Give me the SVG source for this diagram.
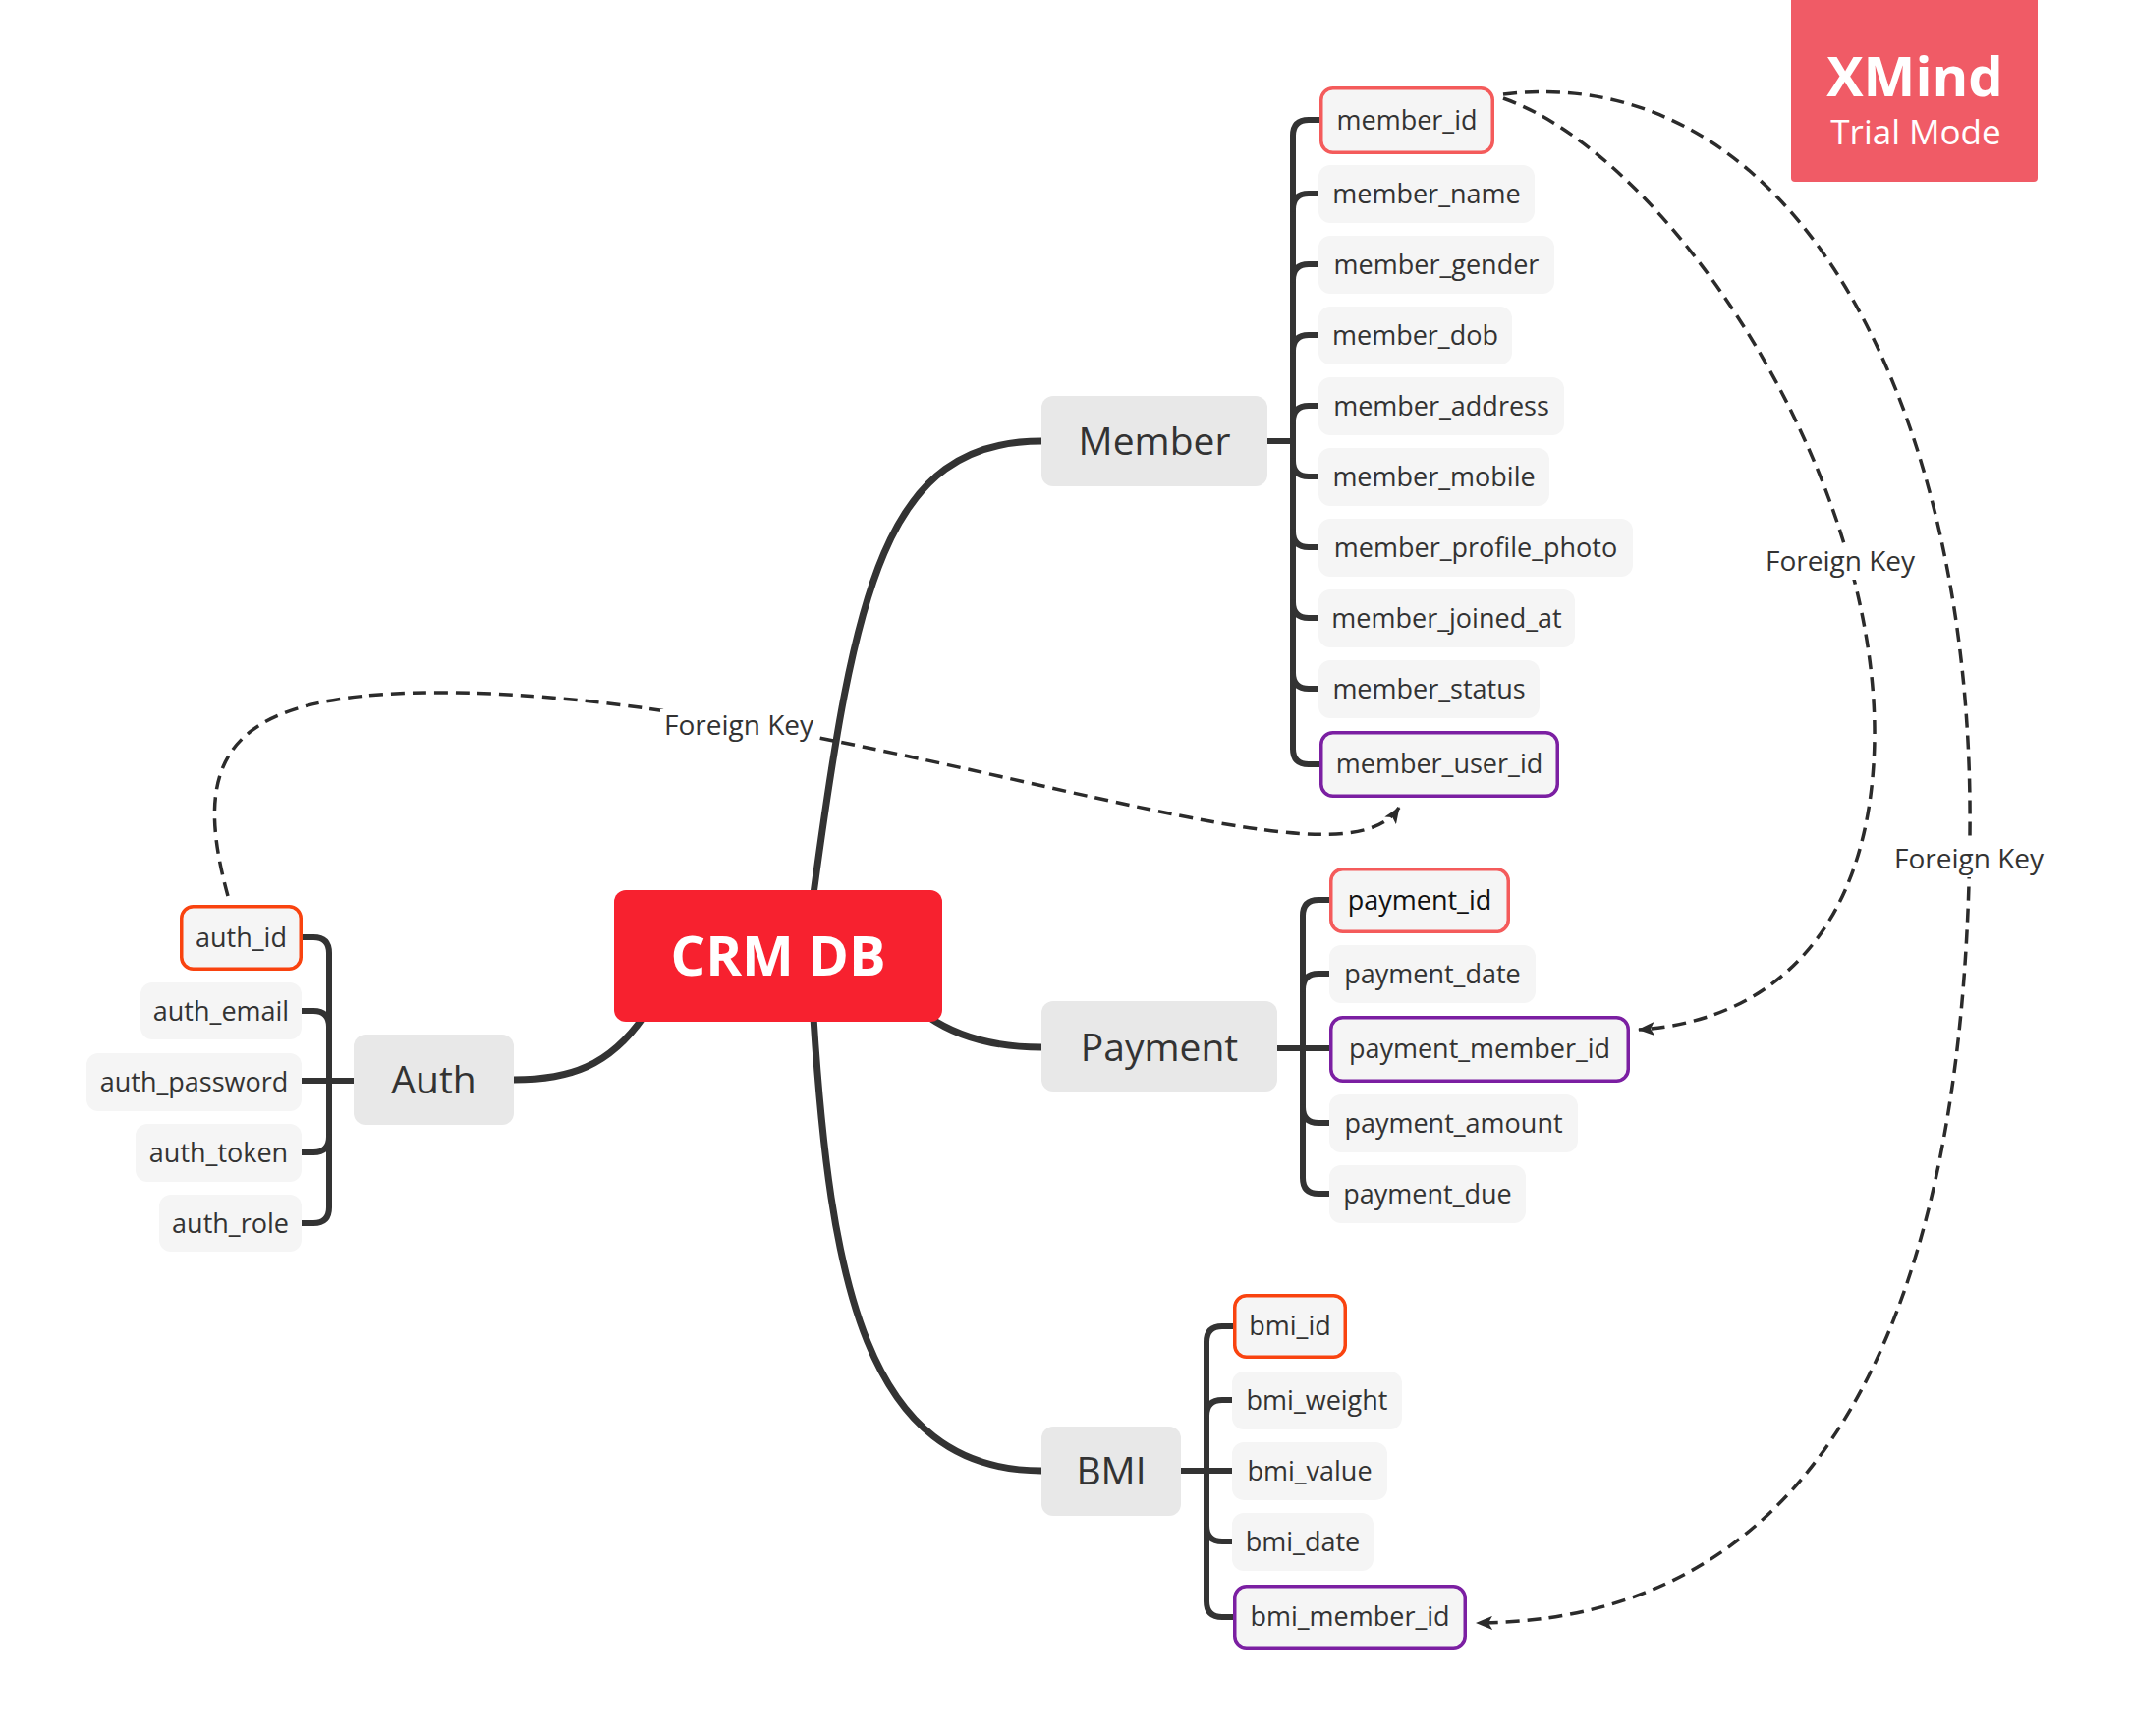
<svg xmlns="http://www.w3.org/2000/svg" width="2169" height="1767" viewBox="0 0 2169 1767">
<style>
text{font-family:"Open Sans","Liberation Sans",sans-serif;fill:#333333}
.sub{font-size:27px;text-anchor:middle}
.main{font-size:39px;text-anchor:middle}
.lbl{font-size:28px;text-anchor:middle;fill:#333}
.sb{fill:#F5F5F5}
.mb{fill:#E8E8E8}
.pk1{fill:#F5F5F5;stroke:#F45B5B;stroke-width:3.5}
.pk2{fill:#F5F5F5;stroke:#F9430F;stroke-width:3.5}
.fk{fill:#F5F5F5;stroke:#7B1FA2;stroke-width:3.5}
.br{fill:none;stroke:#333;stroke-width:6;stroke-linecap:round;stroke-linejoin:round}
.mc{fill:none;stroke:#333;stroke-width:7;stroke-linecap:round}
.rel{fill:none;stroke:#2b2b2b;stroke-width:3.5;stroke-dasharray:14 8}
</style>
<defs>
<marker id="ah" markerWidth="18" markerHeight="14" refX="16" refY="7" orient="auto" markerUnits="userSpaceOnUse">
<path d="M0,0 L17,7 L0,14 L4,7 z" fill="#2b2b2b"/>
</marker>
</defs>
<rect width="2169" height="1767" fill="#ffffff"/>

<g id="connectors">
<path class="mc" d="M 828 910 C 870 600, 900 449, 1060 449"/>
<path class="mc" d="M 945 1035 Q 990 1066 1060 1066"/>
<path class="mc" d="M 828 1036 C 845 1300, 880 1497, 1060 1497"/>
<path class="mc" d="M 655 1035 C 620 1085, 580 1099, 523 1099"/>
<path class="br" d="M 1290 449 H 1316"/>
<path class="br" d="M 1343 122 H 1332 Q 1316 122 1316 138 V 762 Q 1316 778 1332 778 H 1343"/>
<path class="br" d="M 1316 213 Q 1316 197 1332 197 H 1342"/>
<path class="br" d="M 1316 285 Q 1316 269 1332 269 H 1342"/>
<path class="br" d="M 1316 357 Q 1316 341 1332 341 H 1342"/>
<path class="br" d="M 1316 429 Q 1316 413 1332 413 H 1342"/>
<path class="br" d="M 1316 469 Q 1316 485 1332 485 H 1342"/>
<path class="br" d="M 1316 541 Q 1316 557 1332 557 H 1342"/>
<path class="br" d="M 1316 613 Q 1316 629 1332 629 H 1342"/>
<path class="br" d="M 1316 685 Q 1316 701 1332 701 H 1342"/>
<path class="br" d="M 1300 1067 H 1353"/>
<path class="br" d="M 1353 916 H 1342 Q 1326 916 1326 932 V 1199 Q 1326 1215 1342 1215 H 1353"/>
<path class="br" d="M 1326 1007 Q 1326 991 1342 991 H 1353"/>
<path class="br" d="M 1326 1127 Q 1326 1143 1342 1143 H 1353"/>
<path class="br" d="M 1202 1497 H 1254"/>
<path class="br" d="M 1255 1350 H 1244 Q 1228 1350 1228 1366 V 1630 Q 1228 1646 1244 1646 H 1255"/>
<path class="br" d="M 1228 1441 Q 1228 1425 1244 1425 H 1254"/>
<path class="br" d="M 1228 1553 Q 1228 1569 1244 1569 H 1254"/>
<path class="br" d="M 360 1100 H 307"/>
<path class="br" d="M 308 954 H 319 Q 335 954 335 970 V 1229 Q 335 1245 319 1245 H 307"/>
<path class="br" d="M 335 1045 Q 335 1029 319 1029 H 307"/>
<path class="br" d="M 335 1157 Q 335 1173 319 1173 H 307"/>
<path class="rel" marker-end="url(#ah)" d="M 232 912 C 190 760, 240 703, 460 705 C 700 707, 1000 790, 1200 830 C 1330 856, 1400 858, 1424 822"/>
<path class="rel" marker-end="url(#ah)" d="M 1530 100 C 1700 160, 1910 480, 1908 750 C 1906 950, 1800 1040, 1668 1048"/>
<path class="rel" marker-end="url(#ah)" d="M 1530 96 C 1830 60, 2010 420, 2005 850 C 2000 1380, 1830 1650, 1503 1652"/>
<g id="fk-label-1">
<rect x="672" y="722" width="160" height="34" fill="#fff"/>
<text class="lbl" x="752" y="748">Foreign Key</text>
</g>
<g id="fk-label-2">
<rect x="1794" y="554" width="158" height="36" fill="#fff"/>
<text class="lbl" x="1873" y="581">Foreign Key</text>
</g>
<g id="fk-label-3">
<rect x="1925" y="857" width="158" height="36" fill="#fff"/>
<text class="lbl" x="2004" y="884">Foreign Key</text>
</g>
</g>

<g id="crm-db">
<rect x="625" y="906" width="334" height="134" rx="12" fill="#F7212F"/>
<text x="792" y="993" text-anchor="middle" style="font-size:56px;font-weight:bold;fill:#ffffff">CRM DB</text>
</g>

<g id="member"><rect class="mb" x="1060" y="403" width="230" height="92" rx="12"/><text class="main" x="1175" y="463">Member</text></g>
<g id="payment"><rect class="mb" x="1060" y="1019" width="240" height="92" rx="12"/><text class="main" x="1180" y="1080">Payment</text></g>
<g id="bmi"><rect class="mb" x="1060" y="1452" width="142" height="91" rx="12"/><text class="main" x="1131" y="1511">BMI</text></g>
<g id="auth"><rect class="mb" x="360" y="1053" width="163" height="92" rx="12"/><text class="main" x="441.5" y="1113">Auth</text></g>

<g id="member_id"><rect class="pk1" x="1344.75" y="89.75" width="174.5" height="65.5" rx="12"/><text class="sub" x="1432" y="132">member_id</text></g>
<g id="member_name"><rect class="sb" x="1342" y="168" width="220" height="59" rx="12"/><text class="sub" x="1452" y="207">member_name</text></g>
<g id="member_gender"><rect class="sb" x="1342" y="240" width="240" height="59" rx="12"/><text class="sub" x="1462" y="279">member_gender</text></g>
<g id="member_dob"><rect class="sb" x="1342" y="312" width="197" height="59" rx="12"/><text class="sub" x="1440.5" y="351">member_dob</text></g>
<g id="member_address"><rect class="sb" x="1342" y="384" width="250" height="59" rx="12"/><text class="sub" x="1467" y="423">member_address</text></g>
<g id="member_mobile"><rect class="sb" x="1342" y="456" width="235" height="59" rx="12"/><text class="sub" x="1459.5" y="495">member_mobile</text></g>
<g id="member_profile_photo"><rect class="sb" x="1342" y="528" width="320" height="59" rx="12"/><text class="sub" x="1502" y="567">member_profile_photo</text></g>
<g id="member_joined_at"><rect class="sb" x="1342" y="600" width="261" height="59" rx="12"/><text class="sub" x="1472.5" y="639">member_joined_at</text></g>
<g id="member_status"><rect class="sb" x="1342" y="672" width="225" height="59" rx="12"/><text class="sub" x="1454.5" y="711">member_status</text></g>
<g id="member_user_id"><rect class="fk" x="1344.75" y="745.75" width="240.5" height="64.5" rx="12"/><text class="sub" x="1465" y="787">member_user_id</text></g>

<g id="payment_id"><rect class="pk1" x="1354.75" y="884.75" width="180.5" height="63.5" rx="12"/><text class="sub" x="1445" y="926" style="fill:#111">payment_id</text></g>
<g id="payment_date"><rect class="sb" x="1353" y="962" width="210" height="59" rx="12"/><text class="sub" x="1458" y="1001">payment_date</text></g>
<g id="payment_member_id"><rect class="fk" x="1354.75" y="1035.75" width="302.5" height="64.5" rx="12"/><text class="sub" x="1506" y="1077">payment_member_id</text></g>
<g id="payment_amount"><rect class="sb" x="1353" y="1114" width="253" height="59" rx="12"/><text class="sub" x="1479.5" y="1153">payment_amount</text></g>
<g id="payment_due"><rect class="sb" x="1353" y="1186" width="200" height="59" rx="12"/><text class="sub" x="1453" y="1225">payment_due</text></g>

<g id="bmi_id"><rect class="pk2" x="1256.75" y="1318.75" width="112.5" height="62.5" rx="12"/><text class="sub" x="1313" y="1359">bmi_id</text></g>
<g id="bmi_weight"><rect class="sb" x="1254" y="1396" width="173" height="59" rx="12"/><text class="sub" x="1340.5" y="1435">bmi_weight</text></g>
<g id="bmi_value"><rect class="sb" x="1254" y="1468" width="158" height="59" rx="12"/><text class="sub" x="1333" y="1507">bmi_value</text></g>
<g id="bmi_date"><rect class="sb" x="1254" y="1540" width="144" height="59" rx="12"/><text class="sub" x="1326" y="1579">bmi_date</text></g>
<g id="bmi_member_id"><rect class="fk" x="1256.75" y="1614.75" width="234.5" height="62.5" rx="12"/><text class="sub" x="1374" y="1655">bmi_member_id</text></g>

<g id="auth_id"><rect class="pk2" x="184.75" y="922.75" width="121.5" height="63.5" rx="12"/><text class="sub" x="245.5" y="964">auth_id</text></g>
<g id="auth_email"><rect class="sb" x="143" y="1000" width="164" height="58" rx="12"/><text class="sub" x="225" y="1039">auth_email</text></g>
<g id="auth_password"><rect class="sb" x="88" y="1072" width="219" height="59" rx="12"/><text class="sub" x="197.5" y="1111">auth_password</text></g>
<g id="auth_token"><rect class="sb" x="138" y="1144" width="169" height="59" rx="12"/><text class="sub" x="222.5" y="1183">auth_token</text></g>
<g id="auth_role"><rect class="sb" x="162" y="1216" width="145" height="58" rx="12"/><text class="sub" x="234.5" y="1255">auth_role</text></g>

<g id="watermark">
<rect x="1823" y="-10" width="251" height="195" rx="4" fill="#F05B66"/>
<text x="1949" y="98" text-anchor="middle" style="font-size:56px;font-weight:bold;fill:#ffffff">XMind</text>
<text x="1950" y="147" text-anchor="middle" style="font-size:35px;fill:#ffffff">Trial Mode</text>
</g>
</svg>
